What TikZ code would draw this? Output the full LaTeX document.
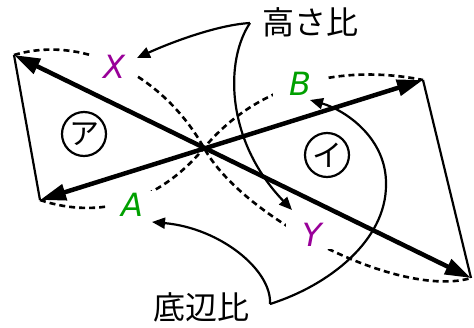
\documentclass[tikz,border=0pt]{standalone}
\usepackage{fontspec}
\newfontfamily\jp{Noto Sans CJK JP}
\newfontfamily\lab{DejaVu Sans}
\usetikzlibrary{arrows.meta}
\definecolor{pur}{RGB}{153,0,153}
\definecolor{grn}{RGB}{0,160,0}
\tikzset{
 thickarrow/.style={line width=4.5pt, {Triangle[length=26pt,width=16pt]}-{Triangle[length=26pt,width=16pt]}},
 thinline/.style={line width=2.2pt},
 arcline/.style={line width=2.6pt, dash pattern=on 6pt off 4pt},
 callout/.style={line width=2.2pt, -{Triangle[length=13pt,width=11pt]}},
 varlabel/.style={font=\lab\itshape\fontsize{32}{36}\selectfont, fill=white, inner ysep=2pt},
 jptext/.style={font=\jp\fontsize{32}{38}\selectfont, inner sep=0pt},
 circlabel/.style={circle, draw, line width=2.2pt, minimum size=44pt, inner sep=0pt, font=\jp\fontsize{30}{34}\selectfont},
}
\begin{document}
\begin{tikzpicture}[x=1pt,y=-1pt]
\useasboundingbox (0,0) rectangle (474,327);
\coordinate (P1) at (14,55);
\coordinate (P2) at (40,200);
\coordinate (P3) at (423,80);
\coordinate (P4) at (471,278);
\coordinate (O) at (204,148);
% dashed arcs
\draw[arcline] (P1) .. controls (84,34) and (164,76) .. (O) .. controls (244,220) and (401,299) .. (P4);
\draw[arcline] (P2) .. controls (100,220) and (159,202) .. (O) .. controls (259,82) and (343,64) .. (P3);
% labels
\node[varlabel, text=pur, inner xsep=11pt] (X) at (114,67) {X};
\node[varlabel, text=grn, inner xsep=15pt] (A) at (132,205) {A};
\node[varlabel, text=grn, inner xsep=16pt] (B) at (300,84) {B};
\node[varlabel, text=pur, inner xsep=16pt] (Y) at (312,235) {Y};
% thin sides
\draw[thinline] (P1) -- (P2);
\draw[thinline] (P3) -- (P4);
% thick arrows
\draw[thickarrow] (P1) -- (P4);
\draw[thickarrow] (P2) -- (P3);
% circled labels
\node[circlabel] (ka) at (84,134) {ア};
\node[circlabel] (ki) at (327,155) {イ};
% texts
\node[jptext] (takasa) at (310,22) {高さ比};
\node[jptext] (teihen) at (201.5,307.5) {底辺比};
% callouts
\coordinate (J1) at (250,23);
\coordinate (J2) at (270,304);
\coordinate (tX) at (137,58);
\coordinate (tY) at (292,210);
\coordinate (tA) at (152,222);
\coordinate (tB) at (310,100);
\coordinate (M) at (386,185);
\draw[callout] (J1) .. controls (215,25) and (165,45) .. (tX);
\draw[callout] (J1) .. controls (225,60) and (225,140) .. (tY);
\draw[callout] (J2) .. controls (272,270) and (220,228) .. (tA);
\draw[callout] (J2) .. controls (330,285) and (386,240) .. (M) .. controls (387,138) and (345,110) .. (tB);
\end{tikzpicture}
\end{document}
